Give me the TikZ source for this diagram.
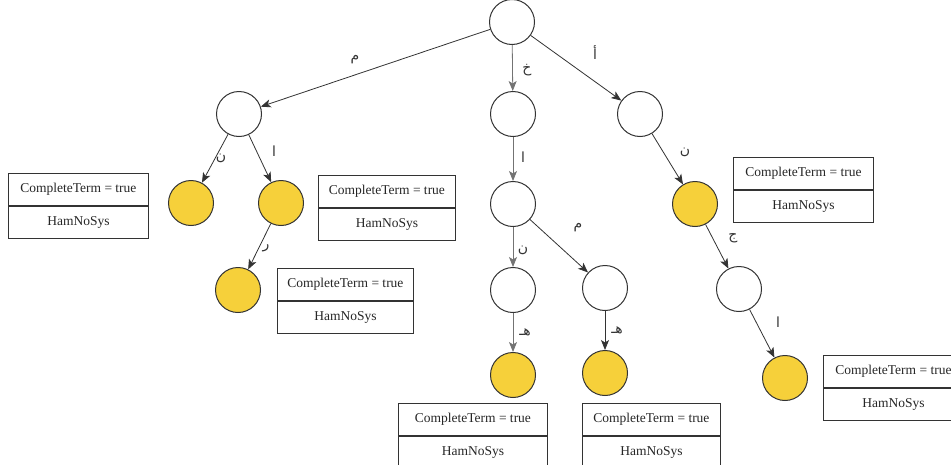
\documentclass[tikz,border=0pt]{standalone}
\usepackage{fontspec}
\setmainfont{Liberation Serif}
\newfontfamily\arabicfont[Script=Arabic]{DejaVu Sans}
\TeXXeTstate=1
\usetikzlibrary{arrows.meta}
\definecolor{gold}{HTML}{F6D03A}
\begin{document}
\begin{tikzpicture}[x=1pt,y=-1pt,
  wnode/.style={circle,draw=black!80,line width=1pt,fill=white,minimum size=45pt,inner sep=0pt},
  ynode/.style={wnode,fill=gold},
  edge/.style={draw=black!80,line width=0.8pt,-{Stealth[length=10pt,width=8pt,inset=2.5pt]}},
  ledge/.style={edge,draw=black!55},
  lbl/.style={font=\arabicfont\fontsize{14}{14}\selectfont,text=black!80,inner sep=0pt},
  rowbox/.style={draw=black!80,line width=0.8pt,minimum height=32pt,inner sep=0pt,
    font=\fontsize{13.5}{14}\selectfont,text=black!85}
  ]
\useasboundingbox (0,0) rectangle (951,464);

% tree nodes
\node[wnode] (root) at (512,22) {};
\node[wnode] (a) at (239,114) {};
\node[wnode] (b) at (513,114) {};
\node[wnode] (c) at (640,114) {};
\node[ynode] (a1) at (191,203) {};
\node[ynode] (a2) at (281,203) {};
\node[ynode] (a3) at (238,290) {};
\node[wnode] (b1) at (513,204) {};
\node[wnode] (b2) at (513,290) {};
\node[wnode] (b3) at (605,288) {};
\node[ynode] (b4) at (513,375) {};
\node[ynode] (b5) at (605,373) {};
\node[ynode] (c1) at (695,204) {};
\node[wnode] (c2) at (739,289) {};
\node[ynode] (c3) at (785,378) {};

% edges
\draw[edge] (root) -- (a);
\draw[ledge] (root) -- (b);
\draw[edge] (root) -- (c);
\draw[edge] (a) -- (a1);
\draw[edge] (a) -- (a2);
\draw[edge] (a2) -- (a3);
\draw[ledge] (b) -- (b1);
\draw[ledge] (b1) -- (b2);
\draw[edge] (b1) -- (b3);
\draw[ledge] (b2) -- (b4);
\draw[edge] (b3) -- (b5);
\draw[edge] (c) -- (c1);
\draw[edge] (c1) -- (c2);
\draw[edge] (c2) -- (c3);

% edge labels
\node[lbl] (l1) at (355,60) {\beginR م\endR};
\node[lbl] (l2) at (527,70) {\beginR خ\endR};
\node[lbl] (l3) at (595,53) {\beginR أ\endR};
\node[lbl] (l4) at (221,158) {\beginR ن\endR};
\node[lbl] (l5) at (274,151) {\beginR ا\endR};
\node[lbl] (l6) at (266,248) {\beginR ر\endR};
\node[lbl] (l7) at (523,157) {\beginR ا\endR};
\node[lbl] (l8) at (523,250) {\beginR ن\endR};
\node[lbl] (l9) at (578,228) {\beginR م\endR};
\node[lbl] (l10) at (525,332) {\beginR هـ\endR};
\node[lbl] (l11) at (617,330) {\beginR هـ\endR};
\node[lbl] (l12) at (685,152) {\beginR ن\endR};
\node[lbl] (l13) at (733,238) {\beginR ج\endR};
\node[lbl] (l14) at (778,322) {\beginR ا\endR};

% info boxes
\newcommand{\infobox}[4]{%
  \node[rowbox,minimum width=#4pt,anchor=north west] (#1t) at (#2,#3) {CompleteTerm = true};
  \node[rowbox,minimum width=#4pt,anchor=north] (#1b) at (#1t.south) {HamNoSys};
}
\infobox{bxa}{8}{173}{140}
\infobox{bxb}{318}{175}{137}
\infobox{bxc}{277}{268}{136}
\infobox{bxd}{733}{157}{140}
\infobox{bxe}{823}{355}{140}
\infobox{bxf}{398}{403}{149}
\infobox{bxg}{582}{403}{138}
\end{tikzpicture}
\end{document}
